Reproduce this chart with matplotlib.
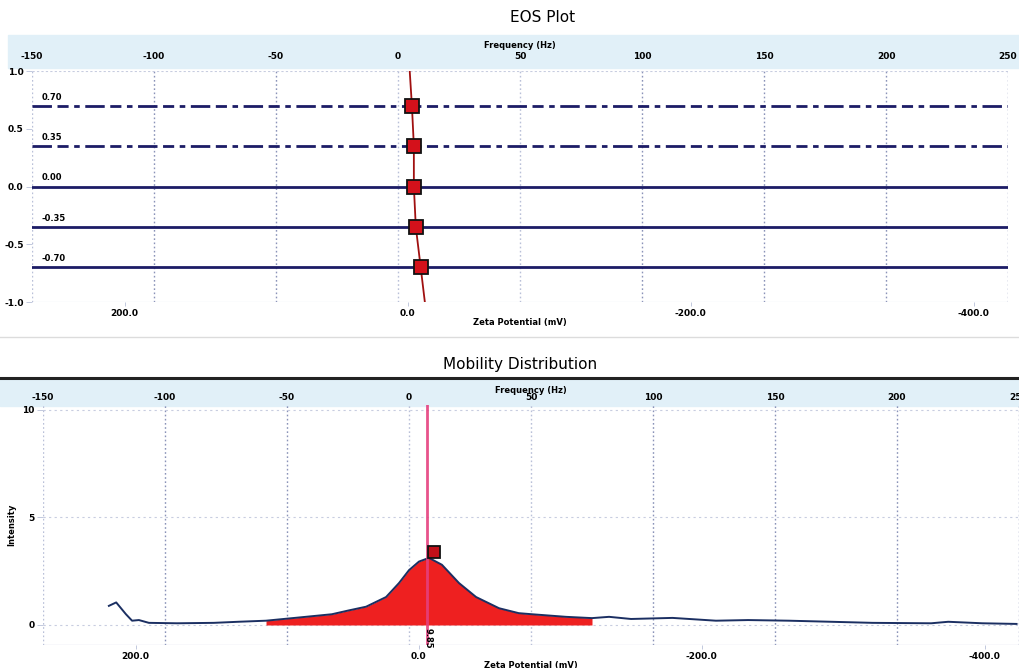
import matplotlib
matplotlib.use("Agg")
import matplotlib.pyplot as plt
from matplotlib.patches import Rectangle
from matplotlib.lines import Line2D

# --- EOS plot data (frequency in Hz vs. normalised position) ---
eos_levels = [0.70, 0.35, 0.00, -0.35, -0.70]
eos_level_labels = ["0.70", "0.35", "0.00", "-0.35", "-0.70"]
eos_dashed = [True, True, False, False, False]
eos_marker_freq = [5.7, 6.5, 6.5, 7.3, 9.3]
eos_line_y = [1.0, 0.70, 0.35, 0.0, -0.35, -0.70, -1.0]
eos_line_freq = [4.8, 5.7, 6.5, 6.5, 7.3, 9.3, 11.0]

# --- Mobility distribution data ---
mob_freq = [-123, -120, -116, -113.5, -110.7, -106.6, -95, -80, -70, -58.6,
            -45, -31.6, -25, -17.6, -9.4, -4.1, 0, 4.1, 8.2, 13.5, 20.5,
            27.5, 36.9, 45, 50.4, 64.3, 75, 82, 91, 108, 125.8, 139, 155.7,
            173, 190, 214, 221, 235, 249]
mob_intensity = [0.89, 1.05, 0.5, 0.2, 0.23, 0.1, 0.08, 0.1, 0.15, 0.2,
                 0.35, 0.5, 0.67, 0.85, 1.3, 1.95, 2.55, 2.95, 3.12, 2.8, 1.95,
                 1.3, 0.78, 0.55, 0.5, 0.38, 0.32, 0.38, 0.28, 0.33, 0.2, 0.23, 0.2,
                 0.15, 0.1, 0.08, 0.15, 0.08, 0.05]
fill_range = (-62, 76)
peak_freq = 7.4
peak_marker = (10.2, 3.4)
peak_label = "9.85"

freq_ticks = [-150, -100, -50, 0, 50, 100, 150, 200, 250]
zeta_ticks = [200, 0, -200, -400]
eos_yticks = [1.0, 0.5, 0.0, -0.5, -1.0]
mob_yticks = [0, 5, 10]

NAVY = "#1c1c66"
GRID = "#8a93b8"
BAND = "#e1f0f8"


def f2z(f):
    return (4.0 - f) / 0.58


def z2f(z):
    return 4.0 - 0.58 * z


def fmt_axes(ax, ylim, yticks, yticklabels, tick_pad, label_pad):
    ax.set_xlim(-150, 250)
    ax.set_ylim(*ylim)
    for s in ax.spines.values():
        s.set_visible(False)
    # zeta potential scale along the bottom edge
    sec = ax.secondary_xaxis("bottom", functions=(f2z, z2f))
    sec.set_xticks(zeta_ticks)
    sec.set_xticklabels([f"{z:.1f}" for z in zeta_ticks], fontsize=6.5, fontweight="bold")
    sec.tick_params(length=3, width=0.6, color="#b8c0d8", pad=2)
    for s in sec.spines.values():
        s.set_visible(False)
    sec.set_xlabel("Zeta Potential (mV)", fontsize=6, fontweight="bold", labelpad=0)
    # frequency scale along the top edge
    ax.set_xticks(freq_ticks)
    ax.set_xticklabels([str(t) for t in freq_ticks], fontsize=6.5, fontweight="bold")
    ax.tick_params(axis="x", length=0, pad=tick_pad, top=True, bottom=False,
                   labeltop=True, labelbottom=False)
    ax.xaxis.set_label_position("top")
    ax.set_xlabel("Frequency (Hz)", fontsize=6, fontweight="bold", labelpad=label_pad)
    ax.set_yticks(yticks)
    ax.set_yticklabels(yticklabels, fontsize=6.5, fontweight="bold")
    ax.tick_params(axis="y", length=4, width=0.6, color="#b8c0d8", pad=2)
    for t in freq_ticks:
        c = GRID if t not in (-150, 0, 50) else "#b9c0d8"
        ax.axvline(t, color=c, lw=1.0, ls=(0, (1.2, 1.8)), zorder=1)
    return sec


fig = plt.figure(figsize=(10.2, 6.68), dpi=100)
W, H = 1020, 668

# header bands and separator
fig.patches.append(Rectangle((8 / W, 1 - 68 / H), 1012 / W, 33 / H,
                             transform=fig.transFigure, color=BAND, zorder=-5))
fig.patches.append(Rectangle((0, 1 - 406 / H), 1, 27 / H,
                             transform=fig.transFigure, color=BAND, zorder=-5))
fig.lines.append(Line2D([0, 1], [1 - 378 / H, 1 - 378 / H], transform=fig.transFigure,
                        color="#222222", lw=2.2))
fig.lines.append(Line2D([0, 1], [1 - 337 / H, 1 - 337 / H], transform=fig.transFigure,
                        color="#dcdcdc", lw=1.0))

fig.text(543 / W, 1 - 18 / H, "EOS Plot", ha="center", va="center", fontsize=11)
fig.text(520 / W, 1 - 365 / H, "Mobility Distribution", ha="center", va="center", fontsize=11)

# ---------------- EOS plot ----------------
ax1 = fig.add_axes([32 / W, 1 - 302 / H, 976 / W, 231 / H], zorder=2)
ax1.patch.set_alpha(0)
fmt_axes(ax1, (-1.0, 1.0), eos_yticks, [f"{v:.1f}" for v in eos_yticks], 7, 3)
ax1.axhline(1.0, color="#c8cde0", lw=0.8, ls=(0, (2, 2)))
ax1.axhline(-1.0, color="#c8cde0", lw=0.8)

for lvl, lab, dashed in zip(eos_levels, eos_level_labels, eos_dashed):
    ls = (0, (7, 2, 4, 2, 2, 2)) if dashed else "-"
    ax1.plot([-150, 250], [lvl, lvl], color=NAVY, lw=2.0, ls=ls, zorder=2)
    ax1.text(-146, lvl + 0.035, lab, fontsize=6, fontweight="bold", va="bottom", ha="left")

ax1.plot(eos_line_freq, eos_line_y, color="#a01010", lw=1.3, zorder=3)
ax1.plot(eos_marker_freq, eos_levels, ls="none", marker="s", ms=10,
         mfc="#d4111b", mec="#111111", mew=1.3, zorder=4)

# ---------------- Mobility distribution ----------------
ax2 = fig.add_axes([43 / W, 1 - 645 / H, 976 / W, 240 / H], zorder=2)
ax2.patch.set_alpha(0)
fmt_axes(ax2, (-0.93, 10.23), mob_yticks, [str(v) for v in mob_yticks], 2, 0)
for v in mob_yticks:
    ax2.axhline(v, color="#c8cde0", lw=0.8, ls=(0, (2, 3)), zorder=1)
ax2.axhline(-0.93, color="#c8cde0", lw=0.9)
ax2.set_ylabel("Intensity", fontsize=6, fontweight="bold", labelpad=4)

mask = [fill_range[0] <= f <= fill_range[1] for f in mob_freq]
ax2.fill_between(mob_freq, 0, mob_intensity, where=mask, color="#ee2020",
                 lw=0, zorder=2)
ax2.plot(mob_freq, mob_intensity, color="#1b2f62", lw=1.4, zorder=3)
ax2.axvline(peak_freq, color="#e5407e", lw=2.0, alpha=0.9, zorder=4)
ax2.plot(*peak_marker, ls="none", marker="s", ms=9, mfc="#c0101a",
         mec="#111111", mew=1.3, zorder=5)
ax2.text(peak_freq + 0.5, -0.15, peak_label, rotation=270, fontsize=6,
         fontweight="bold", ha="center", va="top", zorder=5)

fig.savefig("out.png", dpi=100)
